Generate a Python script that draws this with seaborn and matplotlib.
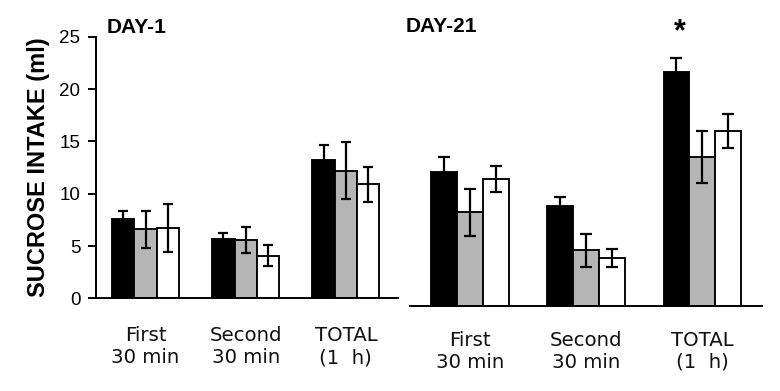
import numpy as np
import pandas as pd
import matplotlib
matplotlib.use('Agg')
import matplotlib.pyplot as plt
import seaborn as sns

# data (ml of sucrose, mean +/- error)
periods = ['First\n30 min', 'Second\n30 min', 'TOTAL\n(1  h)']
groups = ['black', 'gray', 'white']
bar_colors = ['#000000', '#b5b5b5', '#ffffff']

day1_black = [7.55, 5.65, 13.2]
day1_gray = [6.6, 5.6, 12.2]
day1_white = [6.75, 4.1, 10.9]
day1_black_err = [0.85, 0.6, 1.5]
day1_gray_err = [1.75, 1.25, 2.7]
day1_white_err = [2.3, 1.0, 1.65]

day21_black = [11.1, 8.3, 19.4]
day21_gray = [7.75, 4.6, 12.35]
day21_white = [10.5, 4.0, 14.5]
day21_black_err = [1.25, 0.7, 1.1]
day21_gray_err = [1.95, 1.4, 2.15]
day21_white_err = [1.05, 0.75, 1.4]

y_ticks = [0, 5, 10, 15, 20, 25]

sns.set_style('ticks')
plt.rcParams['font.family'] = ['Liberation Sans', 'DejaVu Sans']
plt.rcParams['text.color'] = 'black'
plt.rcParams['axes.labelcolor'] = 'black'
plt.rcParams['axes.edgecolor'] = 'black'
plt.rcParams['xtick.color'] = 'black'
plt.rcParams['ytick.color'] = 'black'


def make_df(black, gray, white):
    rows = []
    for g, vals in zip(groups, [black, gray, white]):
        for p, v in zip(periods, vals):
            rows.append({'period': p, 'group': g, 'intake': v})
    return pd.DataFrame(rows)


def draw_panel(ax, df, errs, capsize, pad):
    sns.barplot(data=df, x='period', y='intake', hue='group', order=periods,
                hue_order=groups, palette=dict(zip(groups, bar_colors)),
                width=0.67, edgecolor='black', linewidth=1.35, errorbar=None,
                legend=False, ax=ax)
    for cont, e in zip(ax.containers, errs):
        xs = [p.get_x() + p.get_width() / 2 for p in cont.patches]
        hs = [p.get_height() for p in cont.patches]
        ax.errorbar(xs, hs, yerr=e, fmt='none', ecolor='black', elinewidth=1.6,
                    capsize=capsize, capthick=1.6, zorder=5)
    ax.set_ylim(0, 25)
    ax.set_xlabel('')
    ax.set_ylabel('')
    ax.tick_params(axis='x', length=0, pad=pad)
    for lab in ax.get_xticklabels():
        lab.set_fontfamily('DejaVu Sans')
        lab.set_fontsize(14.2)
        lab.set_color('#111111')
    ax.spines['top'].set_visible(False)
    ax.spines['right'].set_visible(False)
    ax.spines['bottom'].set_linewidth(1.4)
    ax.spines['left'].set_linewidth(1.4)


fig = plt.figure(figsize=(7.8, 3.91), dpi=100)
ax1 = fig.add_axes([0.1231, 0.2366, 0.3872, 0.6695])
ax2 = fig.add_axes([0.5256, 0.2174, 0.4513, 0.7724])

df1 = make_df(day1_black, day1_gray, day1_white)
df21 = make_df(day21_black, day21_gray, day21_white)

draw_panel(ax1, df1, [day1_black_err, day1_gray_err, day1_white_err], 3.6, 20)
draw_panel(ax2, df21, [day21_black_err, day21_gray_err, day21_white_err], 4.6, 18)

ax1.set_xlim(-0.494, 2.52)
ax2.set_xlim(-0.516, 2.512)

ax1.set_yticks(y_ticks)
ax1.set_yticklabels([str(t) for t in y_ticks], fontsize=13.5)
ax1.tick_params(axis='y', length=5.8, width=1.4, pad=5.5)
ax1.set_ylabel('SUCROSE INTAKE (ml)', fontsize=17, fontweight='bold', labelpad=7)

ax2.spines['left'].set_visible(False)
ax2.set_yticks([])

ax1.text(0.035, 1.0, 'DAY-1', transform=ax1.transAxes, fontsize=15,
         fontweight='bold', ha='left', va='bottom')
ax2.text(-0.012, 0.893, 'DAY-21', transform=ax2.transAxes, fontsize=15,
         fontweight='bold', ha='left', va='bottom')

# significance mark over the black TOTAL bar
star_bar = ax2.containers[0].patches[2]
ax2.text(star_bar.get_x() + star_bar.get_width() / 2 + 0.03, 22.0, '*', fontsize=22,
         fontweight='bold', ha='center', va='baseline')

fig.savefig('out.png', dpi=100)
